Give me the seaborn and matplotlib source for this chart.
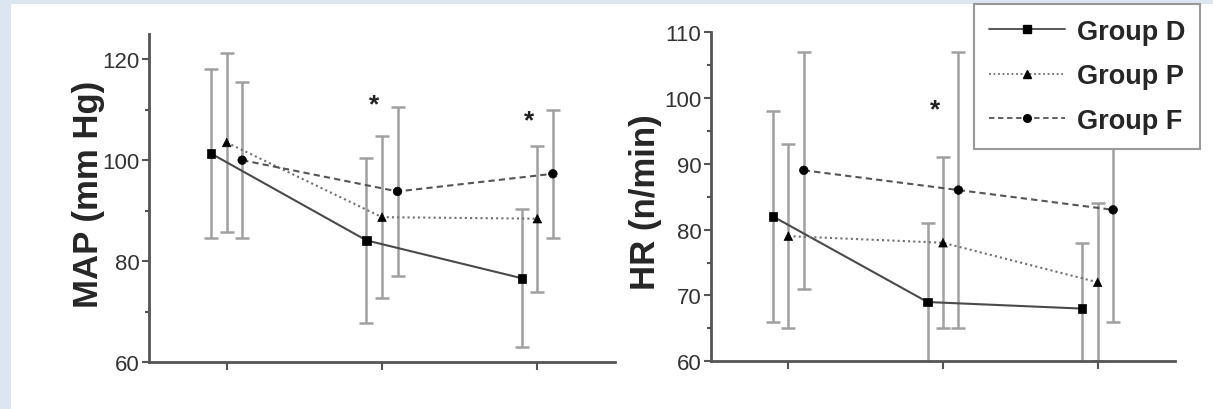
import numpy as np
import pandas as pd
import matplotlib
matplotlib.use("Agg")
import matplotlib.pyplot as plt
from matplotlib.lines import Line2D
from matplotlib.patches import Rectangle
import seaborn as sns

# data (mean +/- sd)
times = [1, 2, 3]
groups = ["Group D", "Group P", "Group F"]

map_mean = {"Group D": [101.3, 84.1, 76.6],
            "Group P": [103.5, 88.7, 88.4],
            "Group F": [100.0, 93.8, 97.3]}
map_sd = {"Group D": [16.7, 16.4, 13.7],
          "Group P": [17.8, 16.0, 14.5],
          "Group F": [15.5, 16.8, 12.7]}

hr_mean = {"Group D": [82, 69, 68],
           "Group P": [79, 78, 72],
           "Group F": [89, 86, 83]}
hr_sd = {"Group D": [16, 12, 10],
         "Group P": [14, 13, 12],
         "Group F": [18, 21, 17]}

map_star_t = [2, 3]
map_star_y = [111.0, 107.8]
hr_star_t = [2]
hr_star_y = [98.3]

map_yticks = [60, 80, 100, 120]
hr_yticks = [60, 70, 80, 90, 100, 110]

sns.set_style("ticks")
plt.rcParams["font.family"] = ["Liberation Sans", "DejaVu Sans"]

dodge = {"Group D": -0.1, "Group P": 0.0, "Group F": 0.1}
dash_map = {"Group D": "", "Group P": (1, 1.5), "Group F": (3, 2)}
ls_map = {"Group D": "-", "Group P": (0, (1, 1.5)), "Group F": (0, (3, 2))}
marker_map = {"Group D": "s", "Group P": "^", "Group F": "o"}
line_cols = ["#4a4a4a", "#707070", "#555555"]
err_col = "#a0a0a0"


def make_df(means, sds):
    rows = []
    for g in groups:
        for t, m, s in zip(times, means[g], sds[g]):
            rows.append({"group": g, "x": t + dodge[g], "mean": m, "sd": s})
    return pd.DataFrame(rows)


def draw(ax, means, sds, ylim, yticks, minor, ylabel, label_xy, star_t, star_y):
    df = make_df(means, sds)
    for g in groups:
        sub = df[df.group == g]
        ax.errorbar(sub.x, sub["mean"], yerr=sub.sd, fmt="none", ecolor=err_col,
                    elinewidth=1.8, capsize=5, capthick=1.8, zorder=1)
    sns.lineplot(data=df, x="x", y="mean", hue="group", style="group",
                 palette=line_cols, dashes=dash_map, linewidth=1.5,
                 legend=False, ax=ax, zorder=2)
    sns.scatterplot(data=df, x="x", y="mean", style="group", markers=marker_map,
                    color="black", s=38, edgecolor="black", legend=False,
                    ax=ax, zorder=3)
    for t, y in zip(star_t, star_y):
        ax.text(t - 0.05, y, "*", ha="center", va="center", fontsize=19,
                fontweight="bold", color="#222")
    ax.set_xlim(0.5, 3.5)
    ax.set_ylim(*ylim)
    ax.set_xticks(times)
    ax.set_xticklabels([])
    ax.set_yticks(yticks)
    ax.set_yticks(np.arange(ylim[0], ylim[1] + 0.1, minor), minor=True)
    ax.set_yticklabels([str(v) for v in yticks], fontsize=16, color="#333")
    ax.set_xlabel("")
    ax.set_ylabel(ylabel, fontsize=25, fontweight="bold")
    ax.yaxis.set_label_coords(*label_xy)
    sns.despine(ax=ax)
    for sp in ["left", "bottom"]:
        ax.spines[sp].set_color("#555")
        ax.spines[sp].set_linewidth(2)
    ax.tick_params(axis="y", which="major", length=5, width=1.5, color="#555",
                   pad=2)
    ax.tick_params(axis="y", which="minor", length=3, width=1.5, color="#555")
    ax.tick_params(axis="x", length=6, width=1.5, color="#555")


fig = plt.figure(figsize=(12.13, 4.10), dpi=100)
fig.patch.set_facecolor("#dce6f1")
fig.patches.append(Rectangle((11 / 1213, 0), 1, 1 - 5 / 410, transform=fig.transFigure,
                             facecolor="white", edgecolor="none", zorder=-1))

ax1 = fig.add_axes([149 / 1213, 47 / 410, 466 / 1213, 328 / 410])
ax2 = fig.add_axes([711 / 1213, 47.7 / 410, 464 / 1213, 329.3 / 410])
for a in (ax1, ax2):
    a.patch.set_alpha(0)

draw(ax1, map_mean, map_sd, (60, 125), map_yticks, 10, "MAP (mm Hg)",
     (-0.094, 0.515), map_star_t, map_star_y)
draw(ax2, hr_mean, hr_sd, (60, 110), hr_yticks, 5, "HR (n/min)",
     (-0.106, 0.485), hr_star_t, hr_star_y)

handles = [Line2D([], [], color=c, linestyle=ls_map[g], linewidth=1.3,
                  marker=marker_map[g], markersize=5.5, markerfacecolor="black",
                  markeredgecolor="black") for g, c in zip(groups, line_cols)]
leg = fig.legend(handles, groups, loc="upper right",
                 bbox_to_anchor=(1200 / 1213, 1 - 5 / 410),
                 prop={"weight": "bold", "size": 19.5}, frameon=True,
                 fancybox=False, edgecolor="#999", framealpha=1,
                 handlelength=2.8, handletextpad=0.45, labelspacing=0.68,
                 borderpad=0.55, borderaxespad=0)
leg.get_frame().set_linewidth(1.5)

fig.savefig("out.png", dpi=100)
